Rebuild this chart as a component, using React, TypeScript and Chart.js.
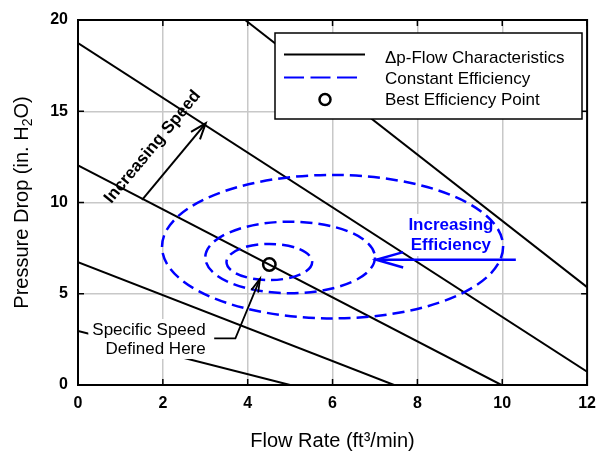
import React, { useEffect, useRef } from "react";
import { Chart, registerables } from "chart.js";
Chart.register(...registerables);

const FONT = "'Liberation Sans', Arial, sans-serif";
const BLUE = "#0000ff";

// axis ticks
const xTicks = [0, 2, 4, 6, 8, 10, 12];
const yTicks = [0, 5, 10, 15, 20];

// Δp-Flow characteristic lines: start / end points
const curveStartX = [0, 0, 0, 0, 3.94];
const curveStartY = [2.96, 6.73, 12.03, 18.74, 20];
const curveEndX = [5.0, 7.45, 9.98, 12, 12];
const curveEndY = [0, 0, 0, 0.73, 5.36];

// best efficiency point
const bepX = [4.51];
const bepY = [6.6];

// constant efficiency contours (center + semi-axes)
const ellCx = [4.51, 5.0, 6.0];
const ellCy = [6.74, 6.99, 7.58];
const ellRx = [1.01, 2.0, 4.02];
const ellRy = [0.99, 1.96, 3.93];

// annotation anchors (data coordinates)
const speedArrowX = [1.51, 3.01];
const speedArrowY = [10.14, 14.34];
const speedLabelPos = [1.76, 13.04];
const effArrowX = [10.32, 7.03];
const effArrowY = [6.86, 6.86];
const effLabelX = 8.79;
const effLabelY = [8.77, 7.67];
const calloutX = [3.21, 3.71, 4.29];
const calloutY = [2.56, 2.56, 5.82];
const specLabelRightX = 3.01;
const specLabelY = [2.74, 1.7];

const legendLabels = ["\u0394p-Flow Characteristics", "Constant Efficiency", "Best Efficiency Point"];

function arrowHead(ctx: CanvasRenderingContext2D, fx: number, fy: number, tx: number, ty: number, len: number, half: number) {
  const ang = Math.atan2(ty - fy, tx - fx);
  ctx.beginPath();
  ctx.moveTo(tx - len * Math.cos(ang - half), ty - len * Math.sin(ang - half));
  ctx.lineTo(tx, ty);
  ctx.lineTo(tx - len * Math.cos(ang + half), ty - len * Math.sin(ang + half));
  ctx.stroke();
}

const overlay = {
  id: "overlay",
  beforeDatasetsDraw(chart: any) {
    const { ctx, scales } = chart;
    const x = scales.x, y = scales.y;
    ctx.save();
    ctx.font = `bold 17px ${FONT}`;
    ctx.textAlign = "center";
    ctx.textBaseline = "middle";
    const cx = x.getPixelForValue(effLabelX);
    const texts = ["Increasing", "Efficiency"];
    const y0 = y.getPixelForValue(effLabelY[0]);
    const y1 = y.getPixelForValue(effLabelY[1]);
    const w = Math.max(ctx.measureText(texts[0]).width, ctx.measureText(texts[1]).width);
    ctx.fillStyle = "#fff";
    ctx.fillRect(cx - w / 2 - 3, y0 - 11, w + 6, y1 - y0 + 22);
    ctx.fillStyle = BLUE;
    ctx.fillText(texts[0], cx, y0);
    ctx.fillText(texts[1], cx, y1);
    ctx.restore();
  },
  afterDatasetsDraw(chart: any) {
    const { ctx, scales, chartArea } = chart;
    const x = scales.x, y = scales.y;
    const px = (v: number) => x.getPixelForValue(v);
    const py = (v: number) => y.getPixelForValue(v);
    ctx.save();

    // ellipses
    ctx.strokeStyle = BLUE;
    ctx.lineWidth = 2.5;
    ctx.setLineDash([12, 6]);
    for (let i = 0; i < ellCx.length; i++) {
      const cxp = px(ellCx[i]);
      const cyp = py(ellCy[i]);
      const rx = Math.abs(px(ellCx[i] + ellRx[i]) - cxp);
      const ry = Math.abs(py(ellCy[i] + ellRy[i]) - cyp);
      ctx.beginPath();
      ctx.ellipse(cxp, cyp, rx, ry, 0, 0, Math.PI * 2);
      ctx.stroke();
    }
    ctx.setLineDash([]);

    // efficiency arrow
    ctx.strokeStyle = BLUE;
    ctx.lineWidth = 2.5;
    const ex0 = px(effArrowX[0]), ey0 = py(effArrowY[0]);
    const ex1 = px(effArrowX[1]), ey1 = py(effArrowY[1]);
    ctx.beginPath();
    ctx.moveTo(ex0, ey0);
    ctx.lineTo(ex1, ey1);
    ctx.stroke();
    arrowHead(ctx, ex0, ey0, ex1, ey1, 28, (16 * Math.PI) / 180);

    // speed arrow
    ctx.strokeStyle = "#000";
    ctx.lineWidth = 2;
    const sx0 = px(speedArrowX[0]), sy0 = py(speedArrowY[0]);
    const sx1 = px(speedArrowX[1]), sy1 = py(speedArrowY[1]);
    ctx.beginPath();
    ctx.moveTo(sx0, sy0);
    ctx.lineTo(sx1, sy1);
    ctx.stroke();
    arrowHead(ctx, sx0, sy0, sx1, sy1, 17, (20 * Math.PI) / 180);

    // speed label
    ctx.save();
    ctx.translate(px(speedLabelPos[0]), py(speedLabelPos[1]));
    ctx.rotate(Math.atan2(sy1 - sy0, sx1 - sx0));
    ctx.font = `bold 17px ${FONT}`;
    ctx.fillStyle = "#000";
    ctx.textAlign = "center";
    ctx.textBaseline = "middle";
    ctx.fillText("Increasing Speed", 0, 0);
    ctx.restore();

    // specific speed label with white background
    ctx.font = `17px ${FONT}`;
    const rX = px(specLabelRightX);
    const b0 = py(specLabelY[0]);
    const b1 = py(specLabelY[1]);
    const l1 = "Specific Speed", l2 = "Defined Here";
    const tw = Math.max(ctx.measureText(l1).width, ctx.measureText(l2).width);
    ctx.fillStyle = "#fff";
    ctx.fillRect(rX - tw - 4, b0 - 16, tw + 8, b1 - b0 + 21);
    ctx.fillStyle = "#000";
    ctx.textAlign = "right";
    ctx.textBaseline = "alphabetic";
    ctx.fillText(l1, rX, b0);
    ctx.fillText(l2, rX, b1);

    // callout
    ctx.strokeStyle = "#000";
    ctx.lineWidth = 1.8;
    ctx.beginPath();
    ctx.moveTo(px(calloutX[0]), py(calloutY[0]));
    for (let i = 1; i < calloutX.length; i++) ctx.lineTo(px(calloutX[i]), py(calloutY[i]));
    ctx.stroke();
    const n = calloutX.length;
    arrowHead(ctx, px(calloutX[n - 2]), py(calloutY[n - 2]), px(calloutX[n - 1]), py(calloutY[n - 1]), 14, (15 * Math.PI) / 180);

    // frame and inward ticks
    const { left, right, top, bottom } = chartArea;
    ctx.strokeStyle = "#000";
    ctx.lineWidth = 2;
    ctx.strokeRect(left, top, right - left, bottom - top);
    ctx.lineWidth = 1.5;
    ctx.beginPath();
    for (const v of xTicks) {
      const p = px(v);
      ctx.moveTo(p, bottom);
      ctx.lineTo(p, bottom - 6);
      ctx.moveTo(p, top);
      ctx.lineTo(p, top + 6);
    }
    for (const v of yTicks) {
      const p = py(v);
      ctx.moveTo(left, p);
      ctx.lineTo(left + 6, p);
      ctx.moveTo(right, p);
      ctx.lineTo(right - 6, p);
    }
    ctx.stroke();

    // legend
    const lx = 275, ly = 33, lw = 307, lh = 86;
    ctx.fillStyle = "#fff";
    ctx.fillRect(lx, ly, lw, lh);
    ctx.strokeStyle = "#000";
    ctx.lineWidth = 1.5;
    ctx.strokeRect(lx, ly, lw, lh);
    const rows = [54.5, 77.5, 99.5];
    ctx.lineWidth = 2;
    ctx.beginPath();
    ctx.moveTo(284, rows[0]);
    ctx.lineTo(365, rows[0]);
    ctx.stroke();
    ctx.strokeStyle = BLUE;
    ctx.setLineDash([20, 6.5]);
    ctx.beginPath();
    ctx.moveTo(284, rows[1]);
    ctx.lineTo(359, rows[1]);
    ctx.stroke();
    ctx.setLineDash([]);
    ctx.strokeStyle = "#000";
    ctx.lineWidth = 2.5;
    ctx.beginPath();
    ctx.arc(325, rows[2], 5.5, 0, Math.PI * 2);
    ctx.stroke();
    ctx.fillStyle = "#000";
    ctx.font = `17px ${FONT}`;
    ctx.textAlign = "left";
    ctx.textBaseline = "alphabetic";
    const bases = [62.7, 84, 105];
    legendLabels.forEach((t, i) => ctx.fillText(t, 385, bases[i]));

    // axis titles
    ctx.font = `20px ${FONT}`;
    ctx.textAlign = "center";
    ctx.fillText("Flow Rate (ft\u00b3/min)", (left + right) / 2, 446.5);

    ctx.save();
    const p1 = "Pressure Drop (in. H";
    const p2 = "2";
    const p3 = "O)";
    ctx.font = `20px ${FONT}`;
    const w1 = ctx.measureText(p1).width;
    const w3 = ctx.measureText(p3).width;
    ctx.font = `14px ${FONT}`;
    const w2 = ctx.measureText(p2).width;
    const total = w1 + w2 + w3;
    ctx.translate(28, (top + bottom) / 2);
    ctx.rotate(-Math.PI / 2);
    ctx.textAlign = "left";
    let cur = -total / 2;
    ctx.font = `20px ${FONT}`;
    ctx.fillText(p1, cur, 0);
    cur += w1;
    ctx.font = `14px ${FONT}`;
    ctx.fillText(p2, cur, 4);
    cur += w2;
    ctx.font = `20px ${FONT}`;
    ctx.fillText(p3, cur, 0);
    ctx.restore();

    ctx.restore();
  },
};

export default function App() {
  const ref = useRef<HTMLCanvasElement>(null);
  useEffect(() => {
    if (!ref.current) return;
    const lineSets = curveStartX.map((_, i) => ({
      label: "curve" + i,
      data: [
        { x: curveStartX[i], y: curveStartY[i] },
        { x: curveEndX[i], y: curveEndY[i] },
      ],
      showLine: true,
      borderColor: "#000",
      borderWidth: 2,
      pointRadius: 0,
      fill: false,
    }));
    const chart = new Chart(ref.current, {
      type: "scatter",
      data: {
        datasets: [
          ...lineSets,
          {
            label: "BEP",
            data: bepX.map((v, i) => ({ x: v, y: bepY[i] })),
            showLine: false,
            pointRadius: 6.2,
            pointBorderWidth: 2.5,
            pointBorderColor: "#000",
            pointBackgroundColor: "#fff",
          },
        ] as any,
      },
      options: {
        animation: false,
        responsive: false,
        layout: { padding: { left: 0, top: 20, right: 8, bottom: 0 } },
        plugins: { legend: { display: false }, tooltip: { enabled: false } },
        scales: {
          x: {
            type: "linear",
            min: 0,
            max: 12,
            afterFit: (s: any) => {
              s.height = 66;
            },
            afterBuildTicks: (s: any) => {
              s.ticks = xTicks.map((v) => ({ value: v }));
            },
            ticks: { font: { family: FONT, size: 16, weight: "bold" }, color: "#000", padding: 9 },
            grid: { color: "#c8c8c8", lineWidth: 1.5, drawTicks: false },
            border: { display: false },
          },
          y: {
            type: "linear",
            min: 0,
            max: 20,
            afterFit: (s: any) => {
              s.width = 78;
            },
            afterBuildTicks: (s: any) => {
              s.ticks = yTicks.map((v) => ({ value: v }));
            },
            ticks: { font: { family: FONT, size: 16, weight: "bold" }, color: "#000", padding: 10 },
            grid: { color: "#c8c8c8", lineWidth: 1.5, drawTicks: false },
            border: { display: false },
          },
        },
      } as any,
      plugins: [overlay],
    });
    return () => chart.destroy();
  }, []);
  return (
    <div style={{ position: "fixed", left: 0, top: 0, width: 605, height: 451, background: "#fff" }}>
      <canvas ref={ref} width={605} height={451} style={{ display: "block" }} />
    </div>
  );
}
